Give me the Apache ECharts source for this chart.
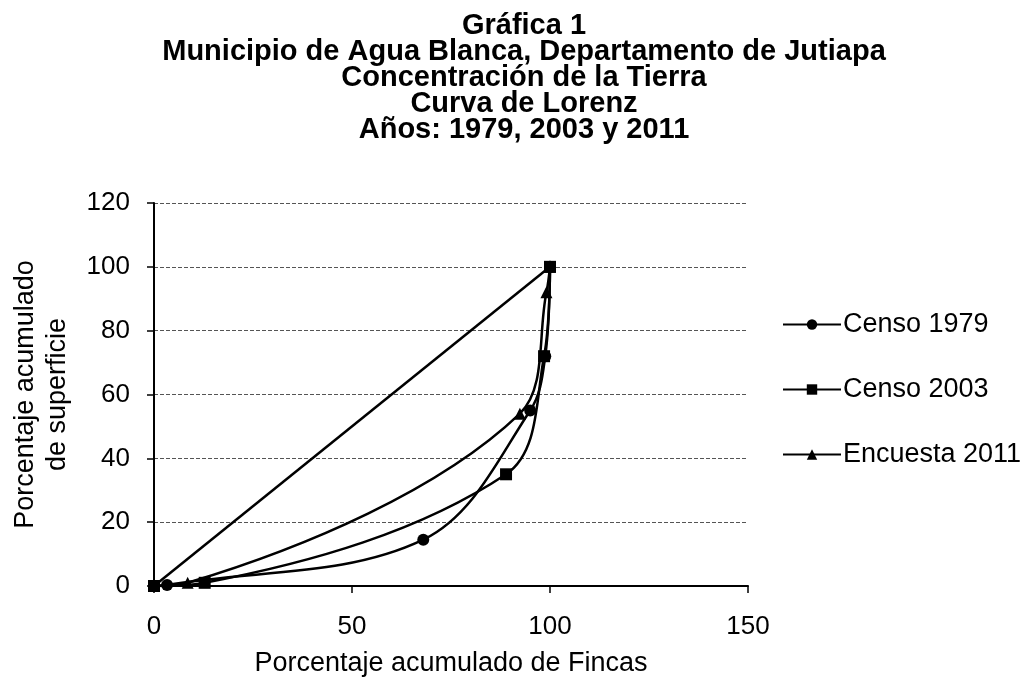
<!DOCTYPE html>
<html>
<head>
<meta charset="utf-8">
<script src="https://cdn.jsdelivr.net/npm/echarts@6/dist/echarts.min.js"></script>
<style>
html,body{margin:0;padding:0;background:#fff;}
#chart{width:1033px;height:682px;}
</style>
</head>
<body>
<div id="chart"></div>
<script>
// Data (percent cumulative farms, percent cumulative surface)
const titleLines = ['Gráfica 1', 'Municipio de Agua Blanca, Departamento de Jutiapa', 'Concentración de la Tierra', 'Curva de Lorenz', 'Años: 1979, 2003 y 2011'];
const seriesNames = ['Censo 1979', 'Censo 2003', 'Encuesta 2011'];
const censo1979 = [[0, 0], [3.3, 0.3], [68, 14.5], [95, 55], [98.8, 72], [100, 100]];
const censo2003 = [[0, 0], [12.8, 1], [88.9, 35], [98.5, 72], [100, 100]];
const encuesta2011 = [[0, 0], [8.5, 1], [92.4, 54], [99.1, 92], [100, 100]];
const equality = [[0, 0], [100, 100]];
const xTicks = [0, 50, 100, 150];
const yTicks = [0, 20, 40, 60, 80, 100, 120];
const xName = 'Porcentaje acumulado de Fincas';
const yName = 'Porcentaje acumulado\nde superficie';

const FONT = "'Liberation Sans', Arial, sans-serif";
const chart = echarts.init(document.getElementById('chart'));

function lineSeries(name, data, symbol, size) {
  return {
    name: name,
    type: 'line',
    data: data,
    smooth: 0.35,
    symbol: symbol,
    symbolSize: size,
    showAllSymbol: true,
    lineStyle: { color: '#000', width: 2.5 },
    itemStyle: { color: '#000' },
    emphasis: { disabled: true },
    z: 3
  };
}

chart.setOption({
  animation: false,
  backgroundColor: '#fff',
  title: {
    text: titleLines.join('\n'),
    left: 519,
    textAlign: 'center',
    top: 8,
    textStyle: {
      fontFamily: FONT,
      fontWeight: 'bold',
      fontSize: 29,
      lineHeight: 26,
      color: '#000'
    }
  },
  legend: {
    data: seriesNames,
    orient: 'vertical',
    left: 777,
    top: 306,
    itemWidth: 58,
    itemHeight: 13,
    itemGap: 38,
    textStyle: { fontFamily: FONT, fontSize: 27, color: '#000', padding: [0, 0, 0, -3] },
    selectedMode: false
  },
  grid: { left: 154, right: 285, top: 203, bottom: 89, containLabel: false },
  xAxis: {
    type: 'value',
    min: xTicks[0],
    max: xTicks[xTicks.length - 1],
    interval: xTicks[1] - xTicks[0],
    name: xName,
    nameLocation: 'middle',
    nameGap: 64,
    nameTextStyle: { fontFamily: FONT, fontSize: 27, color: '#000' },
    axisLine: { onZero: false, lineStyle: { color: '#000', width: 2 } },
    axisTick: { show: true, length: 7, lineStyle: { color: '#000', width: 1.5 } },
    axisLabel: { fontFamily: FONT, fontSize: 26, color: '#000', margin: 28 },
    splitLine: { show: false }
  },
  yAxis: {
    type: 'value',
    min: yTicks[0],
    max: yTicks[yTicks.length - 1],
    interval: yTicks[1] - yTicks[0],
    name: yName,
    nameLocation: 'middle',
    nameGap: 80,
    nameRotate: 90,
    nameTextStyle: { fontFamily: FONT, fontSize: 27, color: '#000', lineHeight: 32 },
    axisLine: { show: true, lineStyle: { color: '#000', width: 2 } },
    axisTick: { show: true, length: 7, lineStyle: { color: '#000', width: 1.5 } },
    axisLabel: { fontFamily: FONT, fontSize: 26, color: '#000', margin: 24 },
    splitLine: { show: true, lineStyle: { color: '#555', width: 1, type: [4, 2] } }
  },
  series: [
    {
      name: 'Igualdad',
      type: 'line',
      data: equality,
      symbol: 'none',
      lineStyle: { color: '#000', width: 2.5 },
      emphasis: { disabled: true },
      z: 2
    },
    lineSeries(seriesNames[0], censo1979, 'circle', 12),
    lineSeries(seriesNames[1], censo2003, 'rect', 12),
    lineSeries(seriesNames[2], encuesta2011, 'triangle', 12)
  ]
});
</script>
</body>
</html>
